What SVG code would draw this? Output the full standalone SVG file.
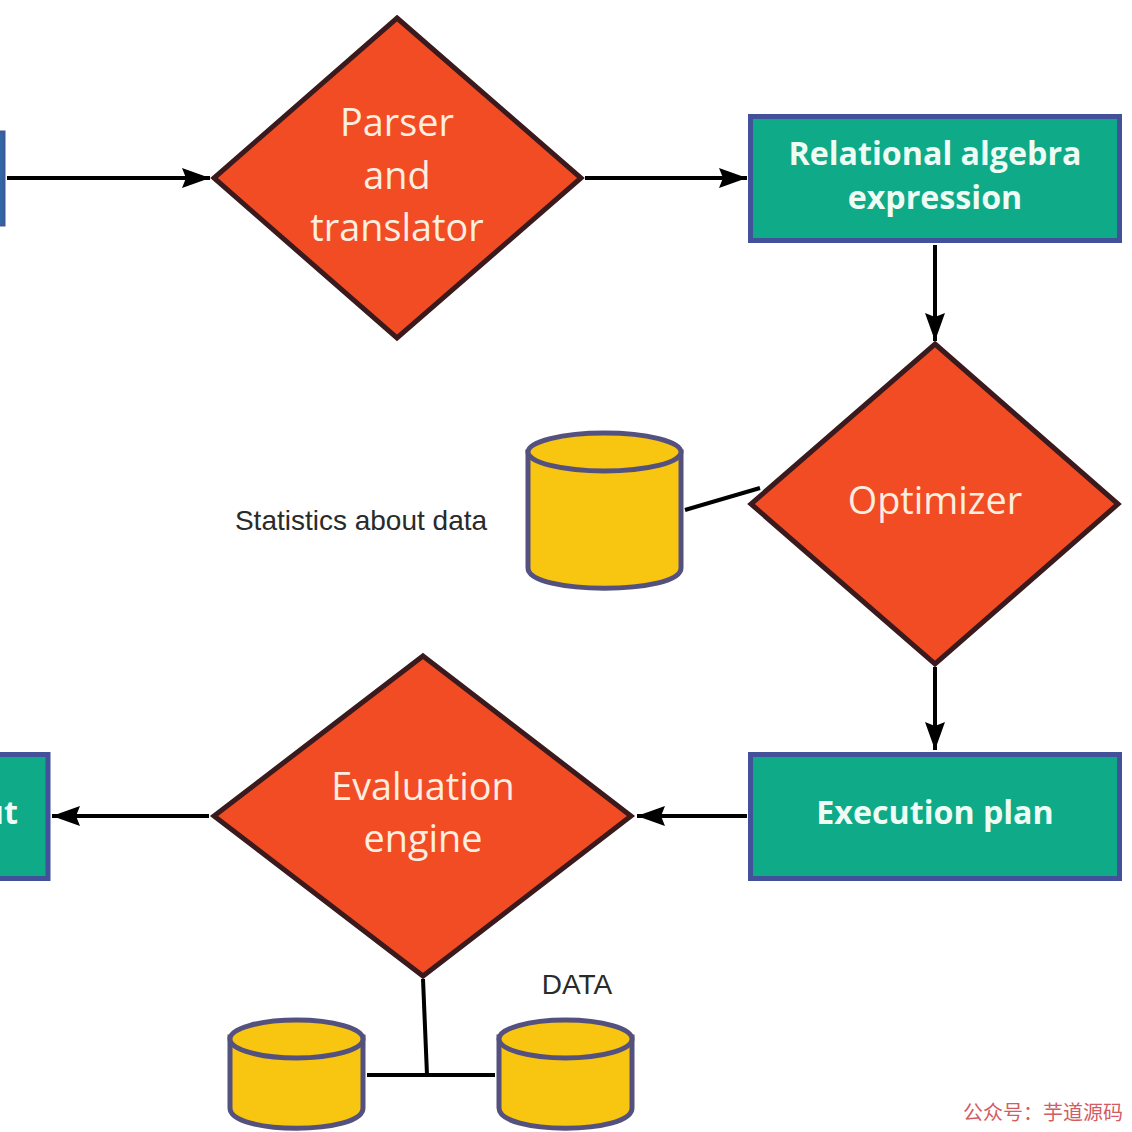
<svg xmlns="http://www.w3.org/2000/svg" width="1132" height="1132" viewBox="0 0 1132 1132">
<style>
.d{fill:#f24c25;stroke:#3a1a1c;stroke-width:5;stroke-linejoin:miter}
.r{fill:#0faa87;stroke:#43519a;stroke-width:5}
.c{stroke:#000;stroke-width:4;fill:none}
.cy{fill:#f8c511;stroke:#54517f;stroke-width:5}
.w{font-family:"Open Sans","Noto Sans",sans-serif;fill:#fdeee0;font-size:37.8px;text-anchor:middle}
.b{font-family:"Open Sans","Noto Sans",sans-serif;fill:#eefcf4;font-size:32.2px;font-weight:700;text-anchor:middle}
.l{font-family:"Liberation Sans",Arial,sans-serif;fill:#2a2a2a;font-size:28px;text-anchor:middle}
.m{font-family:"Noto Sans CJK SC",sans-serif;font-size:20px;fill:#c8343c;opacity:.8}
</style>
<defs>
<marker id="a" markerUnits="userSpaceOnUse" markerWidth="30" markerHeight="24" refX="28" refY="10" orient="auto" viewBox="0 0 30 20"><path d="M0 0L28 10L0 20L4 10Z" fill="#000"/></marker>
</defs>
<rect width="1132" height="1132" fill="#fff"/>
<g id="connectors">
<path class="c" d="M7 178H210" marker-end="url(#a)"/>
<path class="c" d="M585 178H747" marker-end="url(#a)"/>
<path class="c" d="M935 245V341" marker-end="url(#a)"/>
<path class="c" d="M935 667V750" marker-end="url(#a)"/>
<path class="c" d="M747 816H637" marker-end="url(#a)"/>
<path class="c" d="M209 816H52" marker-end="url(#a)"/>
<path class="c" d="M685 510L760 488"/>
<path class="c" d="M423 979L427 1075"/>
<path class="c" d="M367 1075H495"/>
</g>
<g id="input"><rect x="-10" y="132" width="14" height="93" fill="#2e69a6" stroke="#3f5a9a" stroke-width="3"/></g>
<g id="parser">
<path class="d" d="M397 18L581 178L397 338L214 178Z"/>
<text class="w" x="397" y="136">Parser</text>
<text class="w" x="397" y="189">and</text>
<text class="w" x="397" y="241">translator</text>
</g>
<g id="relational">
<rect class="r" x="750.500" y="116.500" width="369" height="124"/>
<text class="b" x="935" y="165">Relational algebra</text>
<text class="b" x="935" y="209">expression</text>
</g>
<g id="optimizer">
<path class="d" d="M935 344L1118 504L935 664L751 504Z"/>
<text class="w" x="935" y="514">Optimizer</text>
</g>
<g id="stats">
<path class="cy" d="M528 452V568C528 595 681 595 681 568V452Z"/>
<ellipse class="cy" cx="604.500" cy="452" rx="76.500" ry="19"/>
<text class="l" x="361" y="530">Statistics about data</text>
</g>
<g id="plan">
<rect class="r" x="750.500" y="754.500" width="369" height="124"/>
<text class="b" x="935" y="824">Execution plan</text>
</g>
<g id="evaluation">
<path class="d" d="M423 656L631 816L423 976L214 816Z"/>
<text class="w" x="423" y="800">Evaluation</text>
<text class="w" x="423" y="852">engine</text>
</g>
<g id="output">
<rect x="-10" y="754.500" width="58" height="124" class="r"/>
<text class="b" x="18" y="824" style="text-anchor:end">ut</text>
</g>
<g id="data1">
<path class="cy" d="M230 1037V1108C230 1135 363 1135 363 1108V1037Z"/>
<ellipse class="cy" cx="296.500" cy="1039" rx="66.500" ry="19"/>
</g>
<g id="data2">
<path class="cy" d="M499 1037V1108C499 1135 632 1135 632 1108V1037Z"/>
<ellipse class="cy" cx="565.500" cy="1039" rx="66.500" ry="19"/>
<text class="l" x="577" y="994">DATA</text>
</g>
<g id="watermark"><text class="m" x="963" y="1120">公众号：芋道源码</text></g>
</svg>
